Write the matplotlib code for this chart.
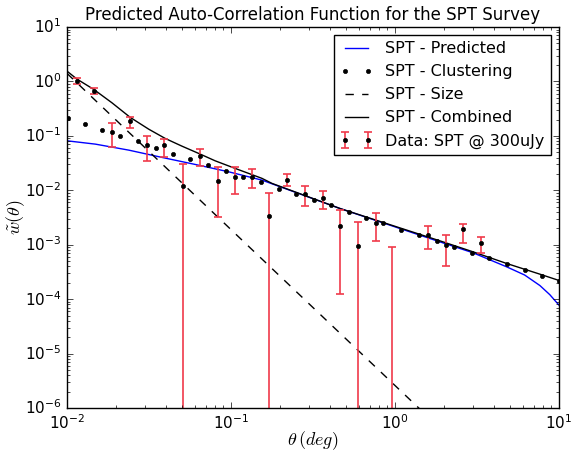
import numpy as np
import matplotlib
matplotlib.use("Agg")
import matplotlib.pyplot as plt

plt.style.use("classic")
plt.rcParams["mathtext.fontset"] = "cm"
plt.rcParams["font.family"] = ["DejaVu Sans"]

# Clustering term (black dots)
clus_theta = [0.0101, 0.0129, 0.0164, 0.0210, 0.0271, 0.0347, 0.0443, 0.0562,
              0.0727, 0.0929, 0.118, 0.152, 0.196, 0.249, 0.319, 0.407, 0.522,
              0.663, 0.849, 1.09, 1.40, 1.80, 2.29, 2.94, 3.76, 4.84, 6.18,
              7.91, 10.0]
clus_w = [0.210, 0.165, 0.126, 0.099, 0.0792, 0.0597, 0.0469, 0.0375, 0.0290,
          0.0225, 0.0173, 0.0140, 0.0108, 0.00841, 0.00661, 0.00535, 0.00393,
          0.00308, 0.00246, 0.00188, 0.00148, 0.00118, 0.000892, 0.000710,
          0.000560, 0.000435, 0.000337, 0.000265, 0.000214]

# Predicted model (blue)
pred_theta = [0.01, 0.0149, 0.0238, 0.0379, 0.0605, 0.0968, 0.1545, 0.462,
              1.88, 3.0, 4.80, 6.18, 7.66, 8.8, 10.0]
pred_w = [0.0813, 0.0706, 0.0548, 0.0403, 0.0299, 0.0219, 0.0154, 0.00464,
          0.00113, 0.00071, 0.000393, 0.000278, 0.000178, 0.000121, 7.8e-5]

# Size term (dashed)
size_theta = [0.01, 0.1, 1.0, 2.0]
size_w = [1.41, 1.9e-3, 2.6e-6, 3.6e-7]

# Combined (black solid)
comb_theta = [0.01, 0.0115, 0.01455, 0.0188, 0.0243, 0.0315, 0.0397, 0.0502,
              0.0635, 0.0802, 0.106, 0.1545, 0.178, 0.462, 1.88, 3.0, 4.80,
              7.66, 10.0]
comb_w = [1.55, 1.107, 0.716, 0.406, 0.219, 0.133, 0.0899, 0.0649, 0.0477,
          0.0348, 0.0253, 0.0166, 0.0134, 0.00464, 0.00118, 0.00074,
          0.000453, 0.000288, 0.000221]

# Measured data with error bars (lower bound 1e-9 = runs off the bottom)
data_theta = [0.0115, 0.0147, 0.0187, 0.0241, 0.0306, 0.0390, 0.0508, 0.0647,
              0.0830, 0.1057, 0.1349, 0.1712, 0.2205, 0.2838, 0.3639, 0.4639,
              0.5947, 0.763, 0.959, 1.596, 2.046, 2.61, 3.34]
data_w = [1.017, 0.675, 0.116, 0.187, 0.0669, 0.0669, 0.0119, 0.0420, 0.0150,
          0.0177, 0.0177, 0.00340, 0.0154, 0.00851, 0.00728, 0.00222, 0.000931,
          0.00246, 1e-8, 0.00150, 0.000984, 0.00194, 0.00107]
data_hi = [1.14, 0.766, 0.170, 0.224, 0.098, 0.0873, 0.0303, 0.0565, 0.0270,
           0.0264, 0.0245, 0.00899, 0.0196, 0.0118, 0.00967, 0.00432, 0.00257,
           0.00376, 0.000915, 0.00222, 0.00148, 0.00243, 0.00140]
data_lo = [0.885, 0.594, 0.0615, 0.141, 0.0344, 0.0413, 1e-9, 0.0279, 0.00326,
           0.00841, 0.0110, 1e-9, 0.0121, 0.00519, 0.00457, 0.000127, 1e-9,
           0.00115, 1e-9, 0.000829, 0.000399, 0.00106, 0.000692]

w = np.array(data_w)
yerr = [w - np.array(data_lo), np.array(data_hi) - w]

fig = plt.figure(figsize=(5.75, 4.51), dpi=100)
ax = fig.add_axes([0.1165, 0.0953, 0.8555, 0.8447])

ax.plot(pred_theta, pred_w, "b-", lw=1, label="SPT - Predicted")
ax.plot(clus_theta, clus_w, "k.", ms=6, label="SPT - Clustering")
ax.plot(size_theta, size_w, "k--", lw=1, label="SPT - Size")
ax.plot(comb_theta, comb_w, "k-", lw=1, label="SPT - Combined")
ax.errorbar(data_theta, data_w, yerr=yerr, fmt="k.", ms=6, ecolor="#f03a4a",
            elinewidth=1.2, capsize=3, capthick=1.2,
            label="Data: SPT @ 300uJy")

ax.set_xscale("log")
ax.set_yscale("log")
ax.set_xlim(1e-2, 10)
ax.set_ylim(1e-6, 10)
ax.set_title("Predicted Auto-Correlation Function for the SPT Survey",
             fontsize=12)
ax.set_xlabel(r"$\theta\,(deg)$", fontsize=13)
ax.set_ylabel(r"$\tilde{w}(\theta)$", fontsize=13)
ax.xaxis.set_label_coords(0.5, -0.055)
ax.yaxis.set_label_coords(-0.082, 0.5)
ax.tick_params(labelsize=11)
ax.tick_params(axis="x", pad=4)

ax.legend(loc="upper right", numpoints=2, fontsize=11.5, frameon=True)

fig.savefig("out.png", dpi=100, facecolor="white")
